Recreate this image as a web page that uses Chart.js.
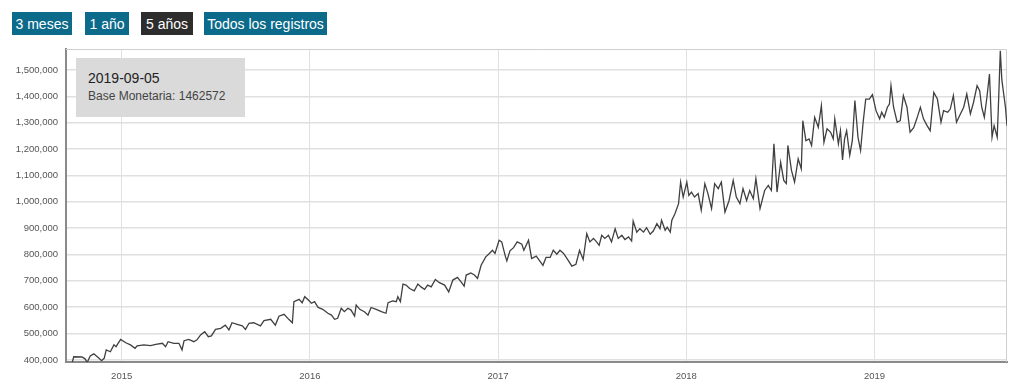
<!DOCTYPE html>
<html>
<head>
<meta charset="utf-8">
<script src="https://cdn.jsdelivr.net/npm/chart.js@4.4.1/dist/chart.umd.min.js"></script>
<style>
    html, body { margin: 0; padding: 0; background: #fff; }
    #wrap { position: relative; width: 1024px; height: 392px; overflow: hidden; font-family: "Liberation Sans", Arial, sans-serif; }
    #chart { position: absolute; left: 0; top: 0; }
    .btn { position: absolute; top: 12px; height: 23px; background: #0c6a8b; color: #fff; font-size: 14px;
           display: flex; align-items: center; justify-content: center; }
    .btn.active { background: #2d2d2d; }
    #tip { position: absolute; left: 76px; top: 58px; width: 169px; height: 59px; background: #dadada; }
    #tip .d { position: absolute; left: 12px; top: 12px; font-size: 14px; color: #222; }
    #tip .v { position: absolute; left: 12px; top: 31px; font-size: 12px; color: #444; }
</style>
</head>
<body>
<div id="wrap">
    <canvas id="chart" width="1024" height="392"></canvas>
    <div class="btn" style="left:12px;width:60px">3 meses</div>
    <div class="btn" style="left:85px;width:44px">1 año</div>
    <div class="btn active" style="left:141px;width:52px">5 años</div>
    <div class="btn" style="left:204px;width:123px">Todos los registros</div>
    <div id="tip"><div class="d">2019-09-05</div><div class="v">Base Monetaria: 1462572</div></div>
</div>
<script>
const seriesLabel = 'Base Monetaria';

const yearTicks = [2015, 2016, 2017, 2018, 2019];
const valueTicks = [400000, 500000, 600000, 700000, 800000, 900000, 1000000,
                    1100000, 1200000, 1300000, 1400000, 1500000];

const dates = [
    '2014-09-15','2014-09-27','2014-09-30','2014-10-16','2014-10-22','2014-10-26','2014-11-01','2014-11-08',
    '2014-11-18','2014-11-23','2014-11-28','2014-12-02','2014-12-10','2014-12-17','2014-12-21','2014-12-30',
    '2015-01-09','2015-01-18','2015-01-27','2015-01-31','2015-02-13','2015-02-26','2015-03-08','2015-03-21',
    '2015-03-27','2015-04-01','2015-04-12','2015-04-22','2015-04-28','2015-05-02','2015-05-11','2015-05-21',
    '2015-05-27','2015-06-03','2015-06-11','2015-06-18','2015-06-24','2015-07-02','2015-07-12','2015-07-21',
    '2015-07-28','2015-08-03','2015-08-13','2015-08-23','2015-08-29','2015-09-05','2015-09-14','2015-09-27',
    '2015-10-04','2015-10-17','2015-10-26','2015-11-02','2015-11-12','2015-11-21','2015-11-28','2015-12-01',
    '2015-12-11','2015-12-17','2015-12-22','2015-12-29',
    '2016-01-04','2016-01-10','2016-01-17','2016-01-26','2016-02-05','2016-02-12','2016-02-18','2016-02-24',
    '2016-03-02','2016-03-08','2016-03-15','2016-03-21','2016-03-28','2016-03-31','2016-04-07','2016-04-16',
    '2016-04-23','2016-04-29','2016-05-09','2016-05-19','2016-05-28','2016-06-01','2016-06-10','2016-06-17',
    '2016-06-20','2016-06-25','2016-06-30','2016-07-06','2016-07-13','2016-07-22','2016-07-29','2016-08-04',
    '2016-08-11','2016-08-17','2016-08-24','2016-09-01','2016-09-09','2016-09-19','2016-09-27','2016-10-05',
    '2016-10-14','2016-10-21','2016-10-27','2016-10-31','2016-11-09','2016-11-16','2016-11-22','2016-11-29',
    '2016-12-08','2016-12-15','2016-12-21','2016-12-26',
    '2017-01-03','2017-01-08','2017-01-15','2017-01-18','2017-01-24','2017-01-31','2017-02-07','2017-02-16',
    '2017-02-20','2017-03-01','2017-03-07','2017-03-16','2017-03-22','2017-03-29','2017-04-04','2017-04-12',
    '2017-04-18','2017-04-25','2017-05-01','2017-05-08','2017-05-17','2017-05-24','2017-06-01','2017-06-08',
    '2017-06-15','2017-06-22','2017-06-28','2017-07-05','2017-07-11','2017-07-16','2017-07-21','2017-07-27',
    '2017-08-03','2017-08-09','2017-08-16','2017-08-22','2017-08-29','2017-09-04','2017-09-11','2017-09-17',
    '2017-09-20','2017-09-27','2017-10-03','2017-10-10','2017-10-16','2017-10-23','2017-10-29','2017-11-05',
    '2017-11-11','2017-11-14','2017-11-21','2017-11-25','2017-12-01','2017-12-04','2017-12-10','2017-12-17',
    '2017-12-21','2017-12-26',
    '2018-01-02','2018-01-06','2018-01-11','2018-01-17','2018-01-24','2018-01-30','2018-02-06','2018-02-12',
    '2018-02-19','2018-02-25','2018-03-04','2018-03-10','2018-03-17','2018-03-25','2018-04-02','2018-04-08',
    '2018-04-15','2018-04-21','2018-04-28','2018-05-04','2018-05-11','2018-05-16','2018-05-24','2018-06-02',
    '2018-06-09','2018-06-15','2018-06-20','2018-06-26','2018-07-03','2018-07-09','2018-07-14','2018-07-17',
    '2018-07-24','2018-07-30','2018-08-06','2018-08-12','2018-08-15','2018-08-21','2018-08-27','2018-09-01',
    '2018-09-07','2018-09-14','2018-09-20','2018-09-25','2018-10-01','2018-10-08','2018-10-13','2018-10-16',
    '2018-10-23','2018-10-27','2018-10-31','2018-11-04','2018-11-08','2018-11-14','2018-11-19','2018-11-24',
    '2018-11-30','2018-12-05','2018-12-10','2018-12-15','2018-12-22','2018-12-28',
    '2019-01-04','2019-01-11','2019-01-15','2019-01-20','2019-01-26','2019-01-30','2019-02-02','2019-02-07',
    '2019-02-14','2019-02-20','2019-02-26','2019-03-05','2019-03-11','2019-03-18','2019-03-24','2019-03-31',
    '2019-04-06','2019-04-13','2019-04-19','2019-04-26','2019-05-03','2019-05-10','2019-05-15','2019-05-23',
    '2019-05-28','2019-06-03','2019-06-09','2019-06-15','2019-06-23','2019-06-29','2019-07-06','2019-07-12',
    '2019-07-19','2019-07-24','2019-07-28','2019-08-02','2019-08-07','2019-08-12','2019-08-17','2019-08-21',
    '2019-08-27','2019-08-29','2019-09-02','2019-09-05','2019-09-12','2019-09-15'
];

const values = [
    390000,390000,412000,411000,404000,390000,415000,423000,
    406000,397000,406000,438000,431000,457000,450000,478000,
    465000,457000,444000,453000,457000,454000,459000,463000,
    450000,469000,463000,463000,438000,473000,478000,469000,
    476000,495000,507000,488000,491000,516000,520000,532000,
    514000,541000,535000,529000,516000,539000,541000,529000,
    549000,554000,532000,566000,573000,554000,541000,621000,
    630000,617000,640000,627000,
    615000,621000,599000,592000,577000,570000,554000,558000,
    596000,583000,596000,589000,566000,608000,592000,583000,
    570000,599000,592000,583000,577000,617000,624000,621000,
    640000,621000,688000,684000,671000,662000,688000,677000,
    668000,684000,677000,705000,693000,684000,658000,703000,
    713000,696000,680000,722000,730000,722000,709000,759000,
    791000,804000,816000,804000,
    854000,848000,794000,776000,814000,826000,848000,839000,
    816000,854000,785000,794000,778000,759000,789000,789000,
    816000,801000,816000,804000,778000,756000,763000,816000,
    781000,879000,848000,861000,848000,835000,873000,861000,
    873000,848000,898000,861000,873000,857000,867000,851000,
    927000,885000,898000,885000,902000,877000,889000,917000,
    898000,930000,892000,904000,885000,930000,955000,993000,
    1075000,1018000,
    1075000,1024000,1037000,1018000,1031000,968000,1069000,1031000,
    974000,1069000,1050000,1075000,961000,1005000,1081000,1018000,
    993000,1050000,1005000,1043000,1012000,1088000,974000,1043000,
    1062000,1043000,1220000,1037000,1150000,1081000,1069000,1214000,
    1119000,1075000,1163000,1125000,1308000,1232000,1239000,1214000,
    1321000,1283000,1365000,1226000,1277000,1264000,1239000,1315000,
    1220000,1270000,1159000,1239000,1270000,1176000,1232000,1384000,
    1245000,1195000,1302000,1390000,1390000,1407000,
    1346000,1315000,1340000,1321000,1359000,1371000,1441000,1359000,
    1302000,1308000,1403000,1359000,1264000,1281000,1315000,1359000,
    1315000,1289000,1270000,1415000,1390000,1302000,1346000,1340000,
    1352000,1403000,1302000,1327000,1359000,1409000,1334000,1377000,
    1441000,1422000,1359000,1321000,1396000,1485000,1245000,1289000,
    1245000,1346000,1573000,1462572,1359000,1289000
];

// year as a fraction, so the x axis can stay linear
function toYear(s) {
    const [y, m, d] = s.split('-').map(Number);
    const start = Date.UTC(y, 0, 1);
    const end = Date.UTC(y + 1, 0, 1);
    return y + (Date.UTC(y, m - 1, d) - start) / (end - start);
}

const points = dates.map((d, i) => ({ x: toYear(d), y: values[i] }));

const tickFont = { family: '"Liberation Sans", Arial, sans-serif', size: 9.5 };

const frame = {
    id: 'frame',
    beforeDatasetsDraw(chart) {
        const a = chart.chartArea;
        const ctx = chart.ctx;
        ctx.save();
        ctx.strokeStyle = '#cfcfcf';
        ctx.lineWidth = 1;
        ctx.beginPath();
        ctx.moveTo(a.left, a.top + 0.5);
        ctx.lineTo(a.right - 0.5, a.top + 0.5);
        ctx.lineTo(a.right - 0.5, a.bottom);
        ctx.stroke();
        ctx.restore();
    }
};

new Chart(document.getElementById('chart'), {
    type: 'line',
    data: {
        datasets: [{
            label: seriesLabel,
            data: points,
            borderColor: '#404040',
            borderWidth: 1.3,
            pointRadius: 0,
            tension: 0,
            fill: false
        }]
    },
    options: {
        responsive: false,
        animation: false,
        events: [],
        layout: { padding: { top: 49, right: 17, left: 0, bottom: 0 } },
        plugins: { legend: { display: false }, tooltip: { enabled: false } },
        scales: {
            x: {
                type: 'linear',
                min: points[0].x,
                max: points[points.length - 1].x,
                afterBuildTicks: (s) => { s.ticks = yearTicks.map(v => ({ value: v })); },
                afterFit: (s) => { s.height = 30; s.paddingLeft = 0; s.paddingRight = 0; },
                border: { color: '#8a8a8a', width: 2 },
                grid: { color: '#e0e0e0', lineWidth: 1, drawTicks: false },
                ticks: {
                    padding: 9,
                    color: '#555',
                    font: tickFont,
                    maxRotation: 0,
                    autoSkip: false,
                    callback: (v) => String(v)
                }
            },
            y: {
                min: 392000,
                max: 1580000,
                afterBuildTicks: (s) => { s.ticks = valueTicks.map(v => ({ value: v })); },
                afterFit: (s) => { s.width = 66; s.paddingTop = 0; s.paddingBottom = 0; },
                border: { color: '#8a8a8a', width: 2 },
                grid: { color: '#e0e0e0', lineWidth: 1.5, drawTicks: false },
                ticks: {
                    padding: 8,
                    color: '#555',
                    font: tickFont,
                    autoSkip: false,
                    callback: (v) => v.toLocaleString('en-US')
                }
            }
        }
    },
    plugins: [frame]
});
</script>
</body>
</html>
